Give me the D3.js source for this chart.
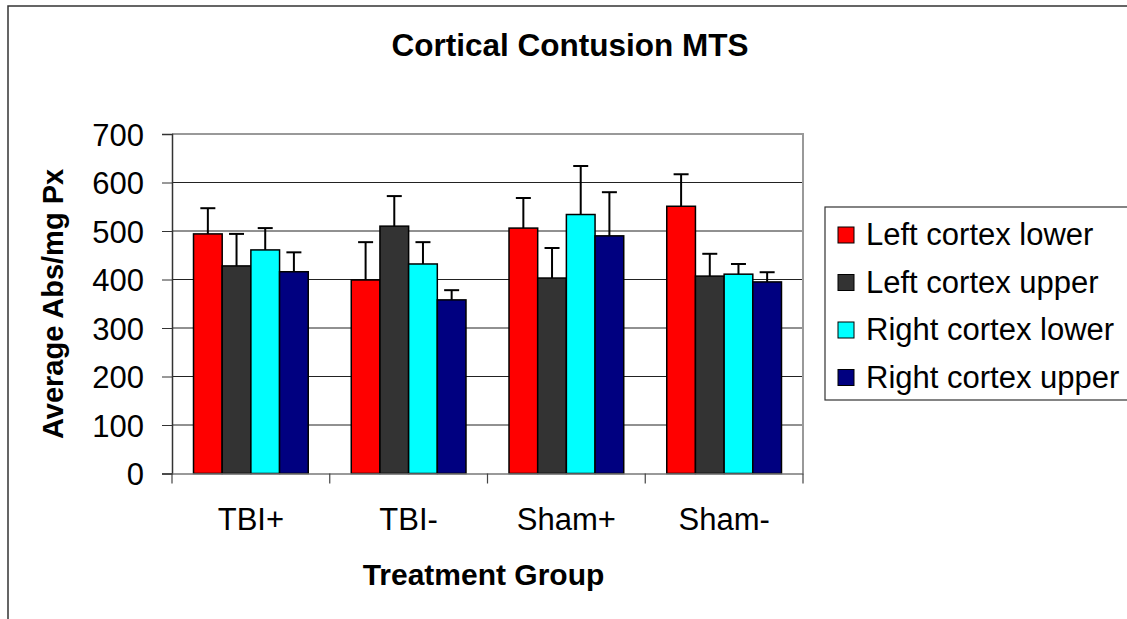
<!DOCTYPE html>
<html>
<head>
<meta charset="utf-8">
<script src="https://cdn.jsdelivr.net/npm/d3@7"></script>
<style>
  body { margin: 0; background: #fff; }
  svg text { font-family: "Liberation Sans", Arial, sans-serif; fill: #000; }
</style>
</head>
<body>
<svg id="chart"></svg>
<script>
// Data
const groups = ['TBI+', 'TBI-', 'Sham+', 'Sham-'];
const seriesNames = ['Left cortex lower', 'Left cortex upper', 'Right cortex lower', 'Right cortex upper'];
const seriesColors = ['#ff0000', '#333333', '#00ffff', '#000080'];
const leftLower = [494, 399, 506, 551];
const leftUpper = [428, 510, 403, 407];
const rightLower = [461, 432, 534, 411];
const rightUpper = [416, 358, 490, 395];
const leftLowerErr = [53, 78, 62, 66];
const leftUpperErr = [66, 62, 62, 46];
const rightLowerErr = [45, 45, 100, 21];
const rightUpperErr = [40, 20, 90, 20];
const yTicks = [0, 100, 200, 300, 400, 500, 600, 700];

const seriesValues = [leftLower, leftUpper, rightLower, rightUpper];
const seriesErrs = [leftLowerErr, leftUpperErr, rightLowerErr, rightUpperErr];

// Canvas
let width = 1127;
let height = 619;
let plot = {left: 172, right: 803, top: 134, bottom: 473.5};

let svg = d3.select('#chart')
    .attr('width', width)
    .attr('height', height);

// outer chart frame
svg.append('rect')
    .attr('x', 8).attr('y', 6)
    .attr('width', 1200).attr('height', 700)
    .attr('fill', '#fff')
    .attr('stroke', '#333')
    .attr('stroke-width', 1.5);

// Scales
let xScale = d3.scaleBand()
    .domain(groups)
    .range([plot.left, plot.right])
    .padding(0);

let bw = xScale.bandwidth();
let barW = bw / 5.5;
let innerScale = d3.scaleBand()
    .domain(seriesNames)
    .range([barW * 0.75, bw - barW * 0.75])
    .padding(0);

let yScale = d3.scaleLinear()
    .domain([0, 700])
    .range([plot.bottom, plot.top]);

// gridlines
svg.append('g')
    .selectAll('line')
    .data(yTicks.filter(d => d > 0 && d < 700))
    .enter()
    .append('line')
    .attr('x1', plot.left).attr('x2', plot.right)
    .attr('y1', d => yScale(d)).attr('y2', d => yScale(d))
    .attr('stroke', '#222')
    .attr('stroke-width', 1);

// plot border (top/right)
svg.append('path')
    .attr('d', `M${plot.left},${yScale(700)}H${plot.right}V${plot.bottom}`)
    .attr('fill', 'none')
    .attr('stroke', '#999')
    .attr('stroke-width', 2);

// Bars
let rows = [];
groups.forEach((g, gi) => {
    seriesNames.forEach((s, si) => {
        rows.push({group: g, series: s, value: seriesValues[si][gi], err: seriesErrs[si][gi], color: seriesColors[si]});
    });
});

let barG = svg.append('g');

// error bars (drawn before bars so only the plus part shows)
let errG = barG.selectAll('g.err')
    .data(rows)
    .enter()
    .append('g')
    .attr('class', 'err')
    .attr('stroke', '#000')
    .attr('stroke-width', 2);

errG.append('line')
    .attr('x1', d => xScale(d.group) + innerScale(d.series) + innerScale.bandwidth() / 2)
    .attr('x2', d => xScale(d.group) + innerScale(d.series) + innerScale.bandwidth() / 2)
    .attr('y1', d => yScale(d.value))
    .attr('y2', d => yScale(d.value + d.err));

errG.append('line')
    .attr('x1', d => xScale(d.group) + innerScale(d.series) + innerScale.bandwidth() / 2 - 7.5)
    .attr('x2', d => xScale(d.group) + innerScale(d.series) + innerScale.bandwidth() / 2 + 7.5)
    .attr('y1', d => yScale(d.value + d.err))
    .attr('y2', d => yScale(d.value + d.err));

barG.selectAll('rect')
    .data(rows)
    .enter()
    .append('rect')
    .attr('x', d => xScale(d.group) + innerScale(d.series))
    .attr('y', d => yScale(d.value))
    .attr('width', innerScale.bandwidth())
    .attr('height', d => yScale(0) - yScale(d.value))
    .attr('fill', d => d.color)
    .attr('stroke', '#000')
    .attr('stroke-width', 1.5);

// Axes
let yAxis = d3.axisLeft(yScale)
    .tickValues(yTicks)
    .tickSize(10)
    .tickPadding(18)
    .tickFormat(d3.format('d'));

let yG = svg.append('g')
    .attr('transform', 'translate(' + plot.left + ',0)')
    .call(yAxis);
yG.select('.domain').attr('stroke', '#333').attr('stroke-width', 1.5);
yG.selectAll('.tick line').attr('stroke', '#333');
yG.selectAll('.tick text')
    .attr('font-size', 31)
    .attr('dy', '0.36em');

let xAxis = d3.axisBottom(xScale)
    .tickSize(0)
    .tickPadding(34);

let xG = svg.append('g')
    .attr('transform', 'translate(0,' + plot.bottom + ')')
    .call(xAxis);
xG.select('.domain').attr('stroke', '#777').attr('stroke-width', 1.5);
xG.selectAll('.tick text')
    .attr('font-size', 31)
    .attr('dy', '0.71em');

// boundary ticks between categories
let bounds = groups.map(g => xScale(g)).concat([plot.right]);
xG.selectAll('line.bound')
    .data(bounds)
    .enter()
    .append('line')
    .attr('class', 'bound')
    .attr('x1', d => d).attr('x2', d => d)
    .attr('y1', 0).attr('y2', 10)
    .attr('stroke', '#444')
    .attr('stroke-width', 1.2);

// Titles
svg.append('text')
    .attr('x', 570)
    .attr('y', 56)
    .attr('text-anchor', 'middle')
    .attr('font-size', 31.5)
    .attr('font-weight', 'bold')
    .text('Cortical Contusion MTS');

svg.append('text')
    .attr('x', (plot.left + plot.right) / 2 - 4)
    .attr('y', 585)
    .attr('text-anchor', 'middle')
    .attr('font-size', 30)
    .attr('font-weight', 'bold')
    .text('Treatment Group');

svg.append('text')
    .attr('transform', 'translate(63,304) rotate(-90)')
    .attr('text-anchor', 'middle')
    .attr('font-size', 29)
    .attr('font-weight', 'bold')
    .text('Average Abs/mg Px');

// Legend
let legend = svg.append('g');
legend.append('rect')
    .attr('x', 825).attr('y', 207)
    .attr('width', 320).attr('height', 193)
    .attr('fill', '#fff')
    .attr('stroke', '#333')
    .attr('stroke-width', 1.2);

let items = legend.selectAll('g.item')
    .data(seriesNames)
    .enter()
    .append('g')
    .attr('class', 'item')
    .attr('transform', (d, i) => 'translate(0,' + (i * 47.5) + ')');

items.append('rect')
    .attr('x', 838).attr('y', 227)
    .attr('width', 16).attr('height', 16)
    .attr('fill', (d, i) => seriesColors[i])
    .attr('stroke', '#000')
    .attr('stroke-width', 1);

items.append('text')
    .attr('x', 866)
    .attr('y', 245)
    .attr('font-size', 31)
    .text(d => d);
</script>
</body>
</html>
